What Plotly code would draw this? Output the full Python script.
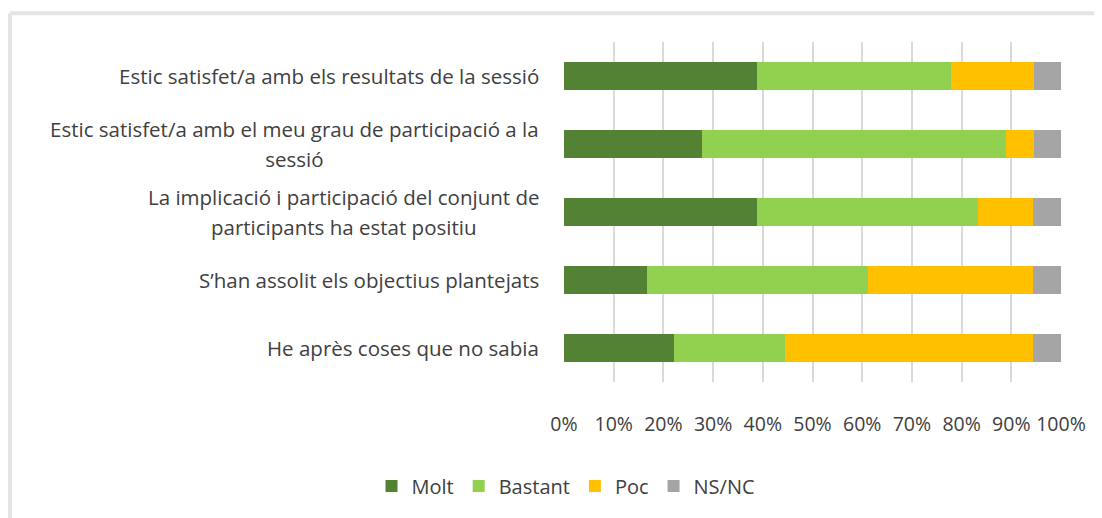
import plotly.graph_objects as go

categories = [
    "Estic satisfet/a amb els resultats de la sessió",
    "Estic satisfet/a amb el meu grau de participació a la<br>sessió",
    "La implicació i participació del conjunt de<br>participants ha estat positiu",
    "S’han assolit els objectius plantejats",
    "He après coses que no sabia",
]
molt = [38.9, 27.8, 38.9, 16.7, 22.2]
bastant = [38.9, 61.1, 44.4, 44.4, 22.2]
poc = [16.7, 5.6, 11.1, 33.3, 50.0]
nsnc = [5.5, 5.5, 5.6, 5.6, 5.6]
tick_vals = [0, 10, 20, 30, 40, 50, 60, 70, 80, 90, 100]
tick_text = ["0%", "10%", "20%", "30%", "40%", "50%", "60%", "70%", "80%", "90%", "100%"]

series = [
    ("Molt", molt, "#548235"),
    ("Bastant", bastant, "#92d050"),
    ("Poc", poc, "#ffc000"),
    ("NS/NC", nsnc, "#a5a5a5"),
]

FONT = "Open Sans"
TXT = "#404040"
LBL = "font-size:20.5px"

fig = go.Figure()
for name, vals, col in series:
    fig.add_trace(go.Bar(
        y=categories, x=vals, name=name, orientation="h",
        marker=dict(color=col, line=dict(width=0)),
        hoverinfo="x+name",
    ))

for c in categories:
    fig.add_annotation(
        x=0, xref="paper", y=c, yref="y",
        text=f"<span style='{LBL}'>" + c.replace("<br>", f"</span><br><span style='{LBL}'>") + "</span>",
        showarrow=False,
        xanchor="right", yanchor="middle", align="center", xshift=-23,
        font=dict(family=FONT, size=23, color=TXT),
    )

# page body adds an 8px offset, so layout is expressed in shifted pixels
OFF = 8
W, H = 1102 - OFF, 518 - OFF
L, T = 564 - OFF, 42 - OFF
R = W - (1061 - OFF)
B = H - (385 - OFF)
pw, ph = W - L - R, H - T - B

def px(xp):
    return (xp - OFF - L) / pw

def py(yp):
    return (H - B - (yp - OFF)) / ph

# chart-area frame (top and left edges)
fig.add_shape(type="line", xref="paper", yref="paper",
              x0=px(10), x1=px(1120), y0=py(13), y1=py(13),
              line=dict(color="#e4e4e4", width=4))
fig.add_shape(type="line", xref="paper", yref="paper",
              x0=px(10), x1=px(10), y0=py(13), y1=py(540),
              line=dict(color="#e4e4e4", width=4))

fig.update_layout(
    width=W, height=H,
    margin=dict(l=L, r=R, t=T, b=B),
    barmode="stack", bargap=0.6,
    plot_bgcolor="white", paper_bgcolor="white",
    font=dict(family=FONT, size=18, color=TXT),
    xaxis=dict(
        range=[0, 100], tickvals=tick_vals, ticktext=tick_text,
        showgrid=True, gridcolor="#d9d9d9", gridwidth=1.5,
        zeroline=False, showline=False, ticks="",
        ticklabelstandoff=28,
        tickfont=dict(family=FONT, size=19.5, color=TXT),
        fixedrange=True,
    ),
    yaxis=dict(
        autorange="reversed", showticklabels=False, showgrid=False,
        zeroline=False, showline=False, ticks="", fixedrange=True,
    ),
    legend=dict(
        orientation="h", x=px(566), xanchor="center", y=py(490), yanchor="middle",
        font=dict(family=FONT, size=20, color=TXT), traceorder="normal",
        itemwidth=30,
    ),
    showlegend=True,
)

fig.write_html("out.html")
